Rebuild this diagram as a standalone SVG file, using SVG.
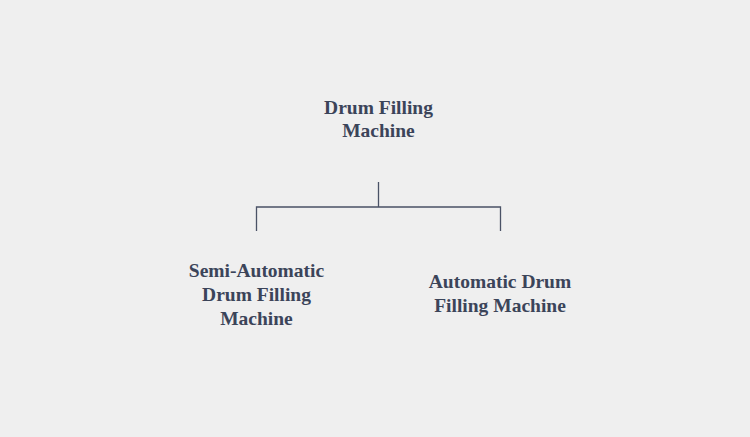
<svg xmlns="http://www.w3.org/2000/svg" width="750" height="437" viewBox="0 0 750 437">
<style>
.t{font-family:"Liberation Serif","Times New Roman",serif;font-weight:bold;font-size:19.5px;fill:#3b4459;text-anchor:middle}
.c{stroke:#4a5266;stroke-width:1.3;fill:none}
</style>
<rect width="750" height="437" fill="#efefef"/>
<g id="root"><text class="t" x="378.5" y="114">Drum Filling</text><text class="t" x="378.5" y="137">Machine</text></g>
<g id="semi"><text class="t" x="256.5" y="277">Semi-Automatic</text><text class="t" x="256.5" y="301">Drum Filling</text><text class="t" x="256.5" y="325">Machine</text></g>
<g id="auto"><text class="t" x="500" y="288">Automatic Drum</text><text class="t" x="500" y="312">Filling Machine</text></g>
<g id="connectors"><path class="c" d="M378.5 182V207M256.5 231V207H500.5V231"/></g>
</svg>
